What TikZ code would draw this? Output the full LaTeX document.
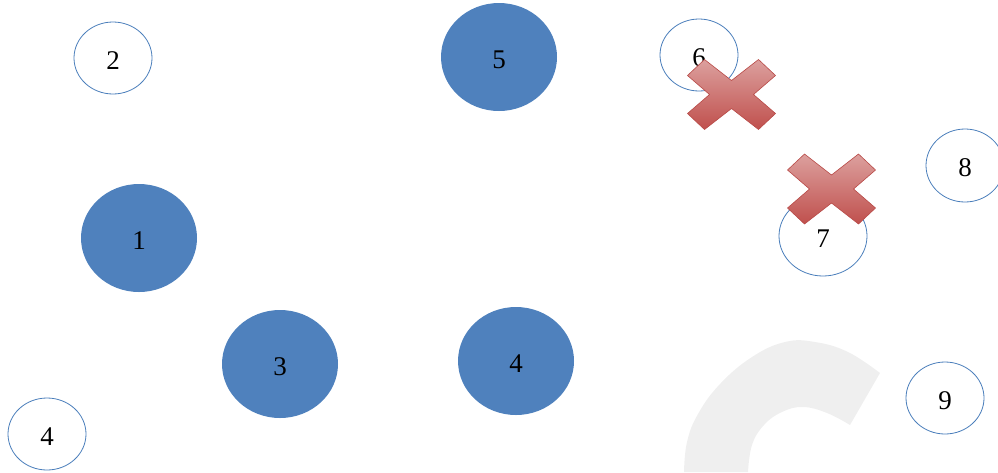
\documentclass[tikz,border=0pt]{standalone}
\usepackage{fontspec}
\setmainfont{Liberation Serif}
\usetikzlibrary{shapes.geometric}
\definecolor{bluefill}{HTML}{4F81BD}
\definecolor{blueline}{HTML}{4A7EBB}
\definecolor{crosstop}{HTML}{DCA09E}
\definecolor{crossbot}{HTML}{C0504D}
\definecolor{crossline}{HTML}{B84A47}
\definecolor{arcgray}{HTML}{EFEFEF}
\tikzset{
  numtext/.style={font=\fontsize{27}{30}\selectfont, text height=22pt, text depth=0pt},
  big/.style={ellipse, fill=bluefill, draw=none, minimum width=116pt, minimum height=108pt, inner sep=0pt, numtext},
  small/.style={ellipse, fill=white, draw=blueline, line width=0.8pt, minimum width=78pt, minimum height=72pt, inner sep=0pt, numtext},
  crossmark/.style={top color=crosstop, bottom color=crossbot, draw=crossline, line width=0.6pt}
}
\newcommand{\mycross}[1]{%
  \path[crossmark, shift={(#1)}] (-44,-19) -- (-27,-35) -- (0,-14) -- (27,-35) -- (44,-19) -- (22,0) -- (44,19) -- (27,35) -- (0,14) -- (-27,35) -- (-44,19) -- (-22,0) -- cycle;}
\begin{document}
\begin{tikzpicture}[x=1pt,y=-1pt]
\useasboundingbox (0,0) rectangle (998,472);
% gray arc
\fill[arcgray] plot[smooth, tension=0.7] coordinates {(684,472) (687,442) (698,414) (720,384) (752,357) (785,342) (815,342) (848,352) (880,373)}
  -- plot[smooth, tension=0.7] coordinates {(850,425) (827,413) (803,407) (782,412) (764,425) (752,445) (748,472)} -- cycle;
\node[small] (n2) at (113,58) {2};
\node[big] (n5) at (499,57) {5};
\node[small] (n6) at (699,55) {6};
\node[big] (n1) at (139,238) {1};
\node[big] (n3) at (280,364) {3};
\node[big] (n4b) at (516,361) {4};
\node[small] (n4) at (47,434) {4};
\node[small, minimum width=88pt, minimum height=80pt] (n7) at (823,236) {7};
\node[small, minimum height=73pt] (n8) at (965,165.5) {8};
\node[small] (n9) at (945,398) {9};
\coordinate (c1) at (731.5,94.5);
\coordinate (c2) at (831.5,189);
\mycross{c1}
\mycross{c2}
\end{tikzpicture}
\end{document}
